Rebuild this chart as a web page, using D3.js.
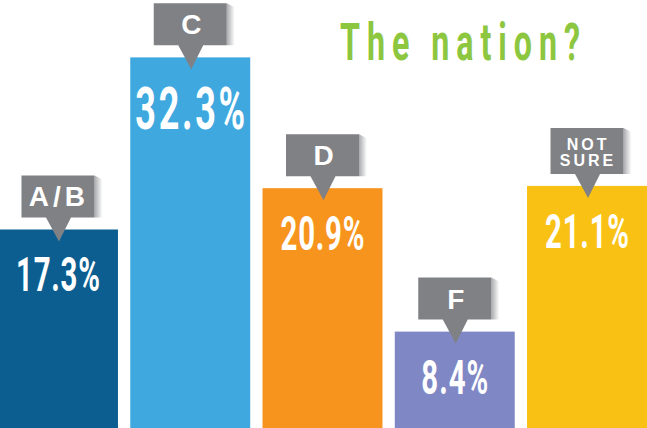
<!DOCTYPE html>
<html>
<head>
<meta charset="utf-8">
<script src="https://cdn.jsdelivr.net/npm/d3@7"></script>
<style>
  body { margin: 0; background: #fff; }
  svg { display: block; }
</style>
</head>
<body>
<div id="chart"></div>
<script>
// grades for the nation
var grades = ["A/B", "C", "D", "F", "NOT SURE"];
var shares = [17.3, 32.3, 20.9, 8.4, 21.1];
var colors = ["#0b5e8f", "#3fa8df", "#f7941d", "#7f87c5", "#f9c113"];
var title = "The nation?";

var width = 647, height = 428;

var svg = d3.select("#chart").append("svg")
    .attr("width", width)
    .attr("height", height);

var x = d3.scaleBand()
    .domain(grades)
    .range([-2, 647])
    .paddingInner(0.093)
    .paddingOuter(0);

var y = d3.scaleLinear()
    .domain([0, 37.3])
    .range([428, 0]);

var defs = svg.append("defs");
var grad = defs.append("linearGradient")
    .attr("id", "shade")
    .attr("x1", "0").attr("x2", "1").attr("y1", "0").attr("y2", "0");
grad.append("stop").attr("offset", "0").attr("stop-color", "#a9aaad");
grad.append("stop").attr("offset", "1").attr("stop-color", "#ffffff");

// title, squeezed horizontally to look like a condensed face
var sx = 0.62;
svg.append("g")
    .attr("transform", "translate(340,60) scale(" + sx + ",1)")
  .append("text")
    .attr("fill", "#8dc63f")
    .style("font-family", "Roboto, 'DejaVu Sans', sans-serif")
    .style("font-weight", "bold")
    .style("font-size", "52px")
    .attr("textLength", 240 / sx)
    .attr("lengthAdjust", "spacing")
    .text(title);

var g = svg.selectAll(".grade")
    .data(grades)
    .enter().append("g")
    .attr("class", "grade");

g.append("rect")
    .attr("x", function(d) { return x(d); })
    .attr("y", function(d, i) { return y(shares[i]); })
    .attr("width", x.bandwidth())
    .attr("height", function(d, i) { return y(0) - y(shares[i]); })
    .attr("fill", function(d, i) { return colors[i]; });

// value labels, same squeeze as the title
var maxShare = d3.max(shares);
var vx = 0.6;
g.append("g")
    .attr("transform", function(d, i) {
        var top = shares[i] === maxShare;
        return "translate(" + (x(d) + x.bandwidth() / 2) + "," +
            (y(shares[i]) + (top ? 72 : 62)) + ") scale(" + vx + ",1)";
    })
  .append("text")
    .attr("text-anchor", "middle")
    .attr("fill", "#fff")
    .style("font-family", "Roboto, 'DejaVu Sans', sans-serif")
    .style("font-weight", "bold")
    .style("font-size", function(d, i) { return shares[i] === maxShare ? "60px" : "49px"; })
    .attr("textLength", function(d, i) {
        if (shares[i] === maxShare) return 110 / vx;
        return (shares[i] < 10 ? 67 : 84) / vx;
    })
    .attr("lengthAdjust", "spacing")
    .text(function(d, i) { return shares[i] + "%"; });

// callouts
var boxW = 73, boxH = 42;
var callout = g.append("g")
    .attr("transform", function(d, i) {
        var cx = x(d) + x.bandwidth() / 2;
        return "translate(" + cx + "," + y(shares[i]) + ")";
    });

callout.append("path")
    .attr("fill", "url(#shade)")
    .attr("d", function(d) {
        var h = d === "NOT SURE" ? boxH + 4 : boxH;
        return "M" + (boxW / 2) + "," + (-12 - h) +
            " L" + (boxW / 2 + 8) + "," + (-12 - h + 4) +
            " L" + (boxW / 2 + 8) + "," + (-12) +
            " L" + (boxW / 2) + "," + (-12) + "Z";
    });

callout.append("path")
    .attr("fill", "#808184")
    .attr("d", function(d) {
        var h = d === "NOT SURE" ? boxH + 4 : boxH;
        return "M" + (-boxW / 2) + "," + (-12 - h) +
            " H" + (boxW / 2) +
            " V" + (-12) +
            " H13 L1,12 L-12,-12" +
            " H" + (-boxW / 2) + "Z";
    });

callout.each(function(d) {
    var c = d3.select(this);
    var lines = d === "NOT SURE" ? ["NOT", "SURE"] : [d];
    var big = lines.length === 1;
    c.selectAll("text")
        .data(lines)
        .enter().append("text")
        .attr("x", 1)
        .attr("y", function(t, j) { return big ? -23 : -36 + j * 16; })
        .attr("text-anchor", "middle")
        .attr("fill", "#fff")
        .style("font-family", "'Liberation Sans', Arial, sans-serif")
        .style("font-weight", "bold")
        .style("font-size", big ? "28px" : "16px")
        .style("letter-spacing", big ? (d === "A/B" ? "4px" : "0px") : "3px")
        .text(function(t) { return t; });
});
</script>
</body>
</html>
